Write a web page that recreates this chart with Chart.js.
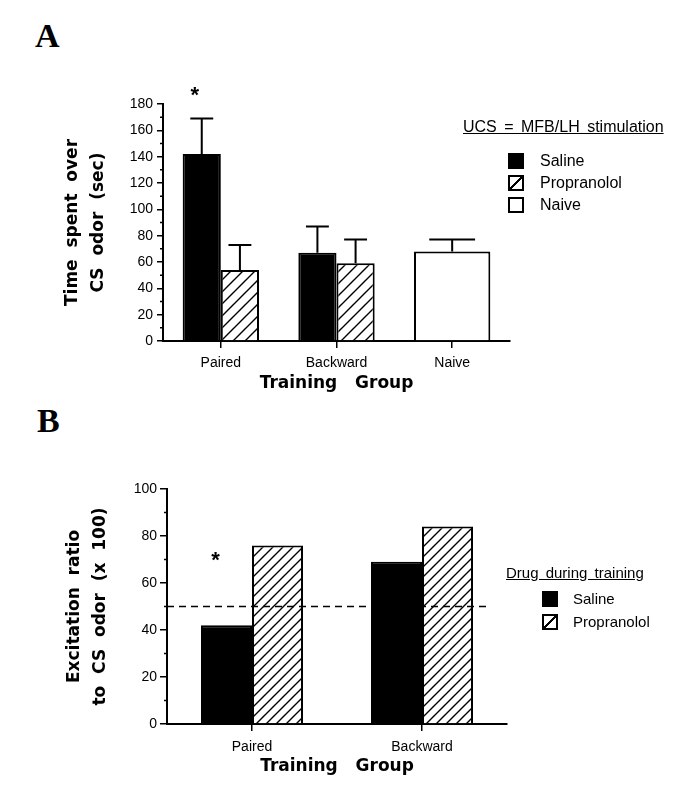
<!DOCTYPE html>
<html>
<head>
<meta charset="utf-8">
<script src="https://cdn.jsdelivr.net/npm/chart.js@4.4.0/dist/chart.umd.min.js"></script>
<style>
  body { margin: 0; background: #fff; font-family: 'Liberation Sans', Arial, sans-serif; color: #000; }
  #page { position: relative; width: 696px; height: 787px; overflow: hidden; }
  .letter { position: absolute; font-family: 'Liberation Serif', 'Times New Roman', serif; font-weight: bold; font-size: 34px; line-height: 34px; }
  canvas { position: absolute; left: 0; }
  .ltitle { position: absolute; text-decoration: underline; white-space: nowrap; }
  .item { position: absolute; height: 16px; line-height: 16px; white-space: nowrap; }
  .sw { position: absolute; left: 0; top: 0; width: 12px; height: 12px; border: 2px solid #000; background: #fff; }
  .sw.black { background: #000; }
  .sw.hatch { background: linear-gradient(135deg, #fff 43%, #000 43%, #000 57%, #fff 57%); }
  .item span { position: absolute; top: 0; }
</style>
</head>
<body>
<div id="page">
  <div class="letter" style="left:35px; top:19px;">A</div>
  <canvas id="chartA" width="520" height="330" style="top:70px;"></canvas>

  <div class="ltitle" style="left:463px; top:118px; font-size:16px; line-height:18px; word-spacing:3px;">UCS = MFB/LH stimulation</div>
  <div class="item" style="left:508px; top:153px; font-size:16px;"><div class="sw black"></div><span style="left:32px;">Saline</span></div>
  <div class="item" style="left:508px; top:175px; font-size:16px;"><div class="sw hatch"></div><span style="left:32px;">Propranolol</span></div>
  <div class="item" style="left:508px; top:197px; font-size:16px;"><div class="sw"></div><span style="left:32px;">Naive</span></div>

  <div class="letter" style="left:37px; top:404px;">B</div>
  <canvas id="chartB" width="520" height="347" style="top:440px;"></canvas>

  <div class="ltitle" style="left:506px; top:564px; font-size:15px; line-height:18px; word-spacing:3px;">Drug during training</div>
  <div class="item" style="left:542px; top:591px; font-size:15px;"><div class="sw black"></div><span style="left:31px;">Saline</span></div>
  <div class="item" style="left:542px; top:614px; font-size:15px;"><div class="sw hatch"></div><span style="left:31px;">Propranolol</span></div>
</div>

<script>
// Panel A: time spent over CS odor (sec), bars + SEM (upper only)
const groupsA = ['Paired', 'Backward', 'Naive'];
const salineA = [142, 67, null];
const salineErrA = [27, 20, null];
const propA = [54, 59, null];
const propErrA = [19, 18, null];
const naiveA = [null, null, 68];
const naiveErrA = [null, null, 9];

// Panel B: excitation ratio (x 100)
const groupsB = ['Paired', 'Backward'];
const salineB = [42, 69];
const propB = [76, 84];
const chanceB = 50;

const tickFont = { family: "'Liberation Sans', Arial, sans-serif", size: 14 };
const titleFont = { family: "'DejaVu Sans', sans-serif", size: 17, weight: 'bold', lineHeight: 1.5 };

function makeHatch(size) {
  const c = document.createElement('canvas');
  c.width = size; c.height = size;
  const g = c.getContext('2d');
  g.fillStyle = '#fff';
  g.fillRect(0, 0, size, size);
  g.strokeStyle = '#000';
  g.lineWidth = 1.4;
  g.beginPath();
  g.moveTo(0, size); g.lineTo(size, 0);
  g.moveTo(-2, 2); g.lineTo(2, -2);
  g.moveTo(size - 2, size + 2); g.lineTo(size + 2, size - 2);
  g.stroke();
  return g.createPattern(c, 'repeat');
}

// upper error bars with a cap
const errorBars = {
  id: 'errorBars',
  afterDatasetsDraw(chart) {
    const ctx = chart.ctx, yS = chart.scales.y;
    chart.data.datasets.forEach((ds, i) => {
      if (!ds.errors) return;
      chart.getDatasetMeta(i).data.forEach((bar, j) => {
        const v = ds.data[j], e = ds.errors[j];
        if (v == null || e == null) return;
        const top = yS.getPixelForValue(v + e);
        const cap = bar.width * 0.3;
        ctx.save();
        ctx.strokeStyle = '#000';
        ctx.lineWidth = 2;
        ctx.beginPath();
        ctx.moveTo(bar.x, bar.y);
        ctx.lineTo(bar.x, top);
        ctx.moveTo(bar.x - cap, top);
        ctx.lineTo(bar.x + cap, top);
        ctx.stroke();
        ctx.restore();
      });
    });
  }
};

// short minor ticks between the labelled ones
const minorTicks = {
  id: 'minorTicks',
  afterDraw(chart, args, opts) {
    const yS = chart.scales.y, ctx = chart.ctx;
    const x = chart.chartArea.left;
    ctx.save();
    ctx.strokeStyle = '#000';
    ctx.lineWidth = 1.5;
    ctx.beginPath();
    for (let v = yS.min + opts.step / 2; v < yS.max; v += opts.step) {
      const y = yS.getPixelForValue(v);
      ctx.moveTo(x - opts.len, y);
      ctx.lineTo(x, y);
    }
    ctx.stroke();
    ctx.restore();
  }
};

// significance asterisk
const stars = {
  id: 'stars',
  afterDraw(chart, args, opts) {
    const ctx = chart.ctx, yS = chart.scales.y;
    opts.marks.forEach(m => {
      const bar = chart.getDatasetMeta(m.dataset).data[m.index];
      ctx.save();
      ctx.fillStyle = '#000';
      ctx.font = "bold 22px 'Liberation Sans', Arial, sans-serif";
      ctx.textAlign = 'center';
      ctx.textBaseline = 'middle';
      ctx.fillText('*', bar.x + m.dx, yS.getPixelForValue(m.value) + 4);
      ctx.restore();
    });
  }
};

// dashed reference line (panel B)
const refLine = {
  id: 'refLine',
  afterDatasetsDraw(chart, args, opts) {
    if (opts.value == null) return;
    const ctx = chart.ctx, yS = chart.scales.y, area = chart.chartArea;
    const y = yS.getPixelForValue(opts.value);
    ctx.save();
    ctx.strokeStyle = '#000';
    ctx.lineWidth = 1.5;
    ctx.setLineDash([7, 5]);
    ctx.beginPath();
    ctx.moveTo(area.left, y);
    ctx.lineTo(area.right - 16, y);
    ctx.stroke();
    ctx.restore();
  }
};

function axisX(title, height, tickPad, titlePad) {
  return {
    grid: { drawOnChartArea: false, offset: false, tickLength: 7, color: '#000', lineWidth: 1.5 },
    border: { color: '#000', width: 2 },
    ticks: { color: '#000', font: tickFont, padding: tickPad },
    title: { display: true, text: title, color: '#000', font: titleFont, padding: { top: 0, bottom: titlePad } },
    afterFit: s => { s.height = height; }
  };
}

function axisY(max, title, width, tickLen, tickPad, titlePad) {
  return {
    min: 0, max: max,
    grid: { drawOnChartArea: false, tickLength: tickLen, color: '#000', lineWidth: 1.5 },
    border: { color: '#000', width: 2 },
    ticks: { stepSize: 20, color: '#000', font: tickFont, padding: tickPad },
    title: { display: true, text: title, color: '#000', font: titleFont, padding: { top: titlePad, bottom: 0 } },
    afterFit: s => { s.width = width; }
  };
}

new Chart(document.getElementById('chartA'), {
  type: 'bar',
  data: {
    labels: groupsA,
    datasets: [
      { label: 'Saline', data: salineA, errors: salineErrA, backgroundColor: '#000', borderColor: '#000', borderWidth: 2 },
      { label: 'Propranolol', data: propA, errors: propErrA, backgroundColor: makeHatch(12), borderColor: '#000', borderWidth: 2 },
      { label: 'Naive', data: naiveA, errors: naiveErrA, backgroundColor: '#fff', borderColor: '#000', borderWidth: 2 }
    ]
  },
  options: {
    responsive: false,
    animation: false,
    skipNull: true,
    categoryPercentage: 0.66,
    barPercentage: 1,
    layout: { padding: { top: 34, right: 10, left: 0, bottom: 0 } },
    scales: {
      x: axisX('Training   Group', 59, 7, 4),
      y: axisY(180, ['Time  spent  over', 'CS  odor  (sec)'], 163, 6, 4, 60)
    },
    plugins: {
      legend: { display: false },
      tooltip: { enabled: false },
      minorTicks: { step: 20, len: 3 },
      stars: { marks: [{ dataset: 0, index: 0, value: 189, dx: -7 }] },
      refLine: { value: null }
    }
  },
  plugins: [errorBars, minorTicks, stars, refLine]
});

new Chart(document.getElementById('chartB'), {
  type: 'bar',
  data: {
    labels: groupsB,
    datasets: [
      { label: 'Saline', data: salineB, backgroundColor: '#000', borderColor: '#000', borderWidth: 2 },
      { label: 'Propranolol', data: propB, backgroundColor: makeHatch(10), borderColor: '#000', borderWidth: 2 }
    ]
  },
  options: {
    responsive: false,
    animation: false,
    categoryPercentage: 0.6,
    barPercentage: 1,
    layout: { padding: { top: 49, right: 13, left: 0, bottom: 0 } },
    scales: {
      x: axisX('Training   Group', 63, 8, 8),
      y: axisY(100, ['Excitation  ratio', 'to  CS  odor  (x  100)'], 167, 7, 3, 62)
    },
    plugins: {
      legend: { display: false },
      tooltip: { enabled: false },
      minorTicks: { step: 20, len: 3 },
      stars: { marks: [{ dataset: 0, index: 0, value: 71, dx: -11 }] },
      refLine: { value: chanceB }
    }
  },
  plugins: [errorBars, minorTicks, stars, refLine]
});
</script>
</body>
</html>
